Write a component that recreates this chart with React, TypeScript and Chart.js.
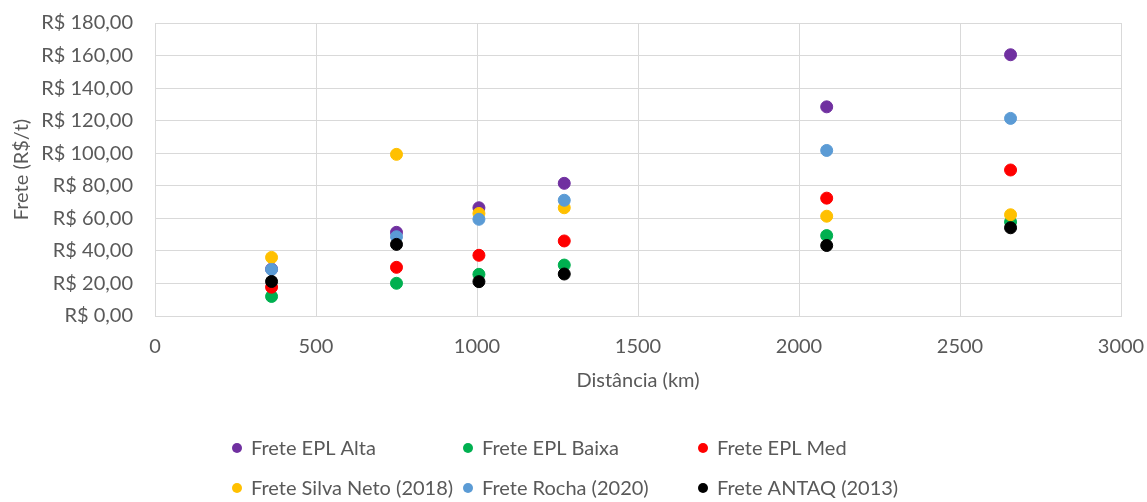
import React, { useEffect, useRef } from "react";
import { Chart, registerables } from "chart.js";

Chart.register(...registerables);

// Distance of each route (km)
const distances = [362, 750, 1006, 1271, 2086, 2657];

// Freight per tonne (R$/t) for each source
const freteEplAlta = [28.8, 51.4, 66.5, 81.5, 128.5, 160.5];
const freteEplBaixa = [12.0, 20.1, 25.6, 31.3, 49.4, 57.8];
const freteEplMed = [17.7, 29.9, 37.3, 46.1, 72.4, 89.7];
const freteSilvaNeto = [36.0, 99.3, 63.0, 66.5, 61.3, 62.2];
const freteRocha = [28.6, 48.7, 59.4, 71.1, 101.7, 121.4];
const freteAntaq = [21.2, 44.0, 21.1, 25.8, 43.3, 54.2];

const seriesNames = [
  "Frete EPL Alta",
  "Frete EPL Baixa",
  "Frete EPL Med",
  "Frete Silva Neto (2018)",
  "Frete Rocha (2020)",
  "Frete ANTAQ (2013)",
];
const seriesValues = [
  freteEplAlta,
  freteEplBaixa,
  freteEplMed,
  freteSilvaNeto,
  freteRocha,
  freteAntaq,
];
const seriesColors = ["#7030A0", "#00B050", "#FF0000", "#FFC000", "#5B9BD5", "#000000"];

const yTickValues = [0, 20, 40, 60, 80, 100, 120, 140, 160, 180];
const xTickValues = [0, 500, 1000, 1500, 2000, 2500, 3000];

const FONT = "Lato, 'Open Sans', sans-serif";
const TEXT_COLOR = "#595959";
const GRID_COLOR = "#D9D9D9";

const formatReal = (v: number) => "R$ " + v.toFixed(2).replace(".", ",");

// Legend laid out as a 3-column grid under the plot
const legendPlugin = {
  id: "gridLegend",
  afterDraw(chart: Chart) {
    const ctx = chart.ctx;
    const colX = [237, 468, 703];
    const rowY = [448, 488];
    ctx.save();
    ctx.font = `20px ${FONT}`;
    ctx.textBaseline = "middle";
    ctx.textAlign = "left";
    chart.data.datasets.forEach((ds: any, i: number) => {
      const x = colX[i % 3];
      const y = rowY[Math.floor(i / 3)];
      ctx.beginPath();
      ctx.fillStyle = ds.backgroundColor as string;
      ctx.arc(x, y, 5, 0, Math.PI * 2);
      ctx.fill();
      ctx.fillStyle = TEXT_COLOR;
      ctx.fillText(ds.label, x + 14, y + 1);
    });
    ctx.restore();
  },
};

export default function App() {
  const canvasRef = useRef<HTMLCanvasElement | null>(null);

  useEffect(() => {
    if (!canvasRef.current) return;
    const datasets = seriesNames.map((name, i) => ({
      label: name,
      data: distances.map((d, j) => ({ x: d, y: seriesValues[i][j] })),
      backgroundColor: seriesColors[i],
      borderColor: seriesColors[i],
      pointRadius: 6,
      pointBorderWidth: 1,
      order: seriesNames.length - i,
    }));

    const chart = new Chart(canvasRef.current, {
      type: "scatter",
      data: { datasets },
      plugins: [legendPlugin],
      options: {
        responsive: false,
        animation: false,
        layout: { padding: { left: 0, right: 26, top: 23, bottom: 0 } },
        plugins: {
          legend: { display: false },
          tooltip: { enabled: false },
        },
        scales: {
          x: {
            type: "linear",
            min: 0,
            max: 3000,
            afterBuildTicks: (scale: any) => {
              scale.ticks = xTickValues.map((v) => ({ value: v }));
            },
            afterFit: (scale: any) => {
              scale.height = 186;
              scale.paddingLeft = 0;
              scale.paddingRight = 0;
            },
            ticks: {
              color: TEXT_COLOR,
              font: { family: FONT, size: 20 },
              padding: 19,
              callback: (v: any) => String(v),
            },
            grid: { color: GRID_COLOR, drawTicks: false },
            border: { color: GRID_COLOR },
            title: {
              display: true,
              text: "Distância (km)",
              color: TEXT_COLOR,
              font: { family: FONT, size: 20 },
              padding: { top: 0, bottom: 109 },
            },
          },
          y: {
            type: "linear",
            min: 0,
            max: 180,
            afterBuildTicks: (scale: any) => {
              scale.ticks = yTickValues.map((v) => ({ value: v }));
            },
            afterFit: (scale: any) => {
              scale.width = 155;
              scale.paddingTop = 0;
              scale.paddingBottom = 0;
            },
            ticks: {
              color: TEXT_COLOR,
              font: { family: FONT, size: 20 },
              padding: 22,
              callback: (v: any) => formatReal(Number(v)),
            },
            grid: { color: GRID_COLOR, drawTicks: false },
            border: { color: GRID_COLOR },
            title: {
              display: true,
              text: "Frete (R$/t)",
              color: TEXT_COLOR,
              font: { family: FONT, size: 20 },
              padding: { top: 10, bottom: 0 },
            },
          },
        },
      },
    });
    return () => chart.destroy();
  }, []);

  return (
    <div
      style={{
        position: "fixed",
        left: 0,
        top: 0,
        width: 1147,
        height: 502,
        background: "#FFFFFF",
      }}
    >
      <canvas ref={canvasRef} width={1147} height={502} />
    </div>
  );
}
